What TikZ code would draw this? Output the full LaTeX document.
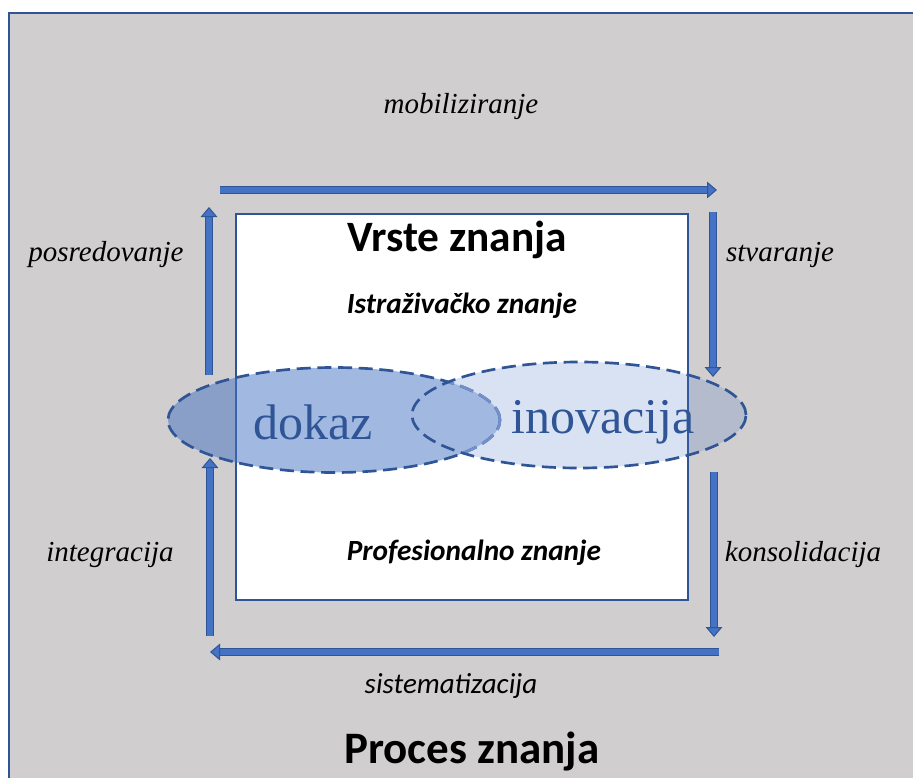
\documentclass[tikz,border=0pt]{standalone}
\usepackage{fontspec}
\setmainfont{Liberation Serif}
\newfontfamily\calibri{Carlito}
\usetikzlibrary{shapes,arrows.meta,positioning,calc}

\definecolor{framegray}{HTML}{D0CECE}
\definecolor{darkblue}{HTML}{2F5597}
\definecolor{midblue}{HTML}{4472C4}
\definecolor{fadeblue}{HTML}{7391C8}

\begin{document}
\begin{tikzpicture}[x=0.03cm, y=-0.03cm,
  flow/.style={draw=darkblue, line width=0.03cm, double=midblue, double distance=0.165cm,
    -{Triangle[width=0.5cm, length=0.3cm, fill=midblue]}},
  step label/.style={font=\fontsize{24.75pt}{28pt}\selectfont\itshape},
  oval line/.style={line width=0.08cm, dash pattern=on 0.42cm off 0.2cm},
  oval/.style={ellipse, draw=darkblue, oval line, inner sep=0pt}]
\useasboundingbox (0,0) rectangle (913,778);
\fill[white] (0,0) rectangle (913,778);

% outer frame
\fill[framegray] (9,13) rectangle (913,778);
\draw[darkblue, line width=0.06cm] (9,778) -- (9,13) -- (913,13);

% inner box
\node[draw=darkblue, line width=0.045cm, fill=white, minimum width=13.56cm, minimum height=11.58cm, inner sep=0pt] (vrste) at (462,407) {};
\node[font=\calibri\bfseries\fontsize{37pt}{41pt}\selectfont] (naslov) at (457,240) {Vrste znanja};
\node[font=\calibri\bfseries\itshape\fontsize{25pt}{29pt}\selectfont] (istraz) at (462,306) {Istraživačko znanje};
\node[font=\calibri\bfseries\itshape\fontsize{25pt}{29pt}\selectfont] (prof) at (474,553) {Profesionalno znanje};

% ellipses
\fill[midblue, opacity=0.5] (334,420) ellipse [x radius=166, y radius=52.5];
\begin{scope}
  \clip (579,415) ellipse [x radius=167, y radius=53];
  \fill[midblue, opacity=0.2, even odd rule] (579,415) ellipse [x radius=167, y radius=53]
    (334,420) ellipse [x radius=166, y radius=52.5];
\end{scope}
\node[oval, minimum width=9.96cm, minimum height=3.15cm] (dokazov) at (334,420) {};
\begin{scope}
  \clip (579,415) ellipse [x radius=167, y radius=53];
  \node[oval, draw=fadeblue, minimum width=9.96cm, minimum height=3.15cm] at (334,420) {};
\end{scope}
\node[oval, minimum width=10.02cm, minimum height=3.18cm] (inovov) at (579,415) {};
\node[text=darkblue, font=\fontsize{42.7pt}{46pt}\selectfont] (dokaz) at (313,422) {dokaz};
\node[text=darkblue, font=\fontsize{42.7pt}{46pt}\selectfont] (inovacija) at (603,422) {inovacija};

% cycle arrows
\coordinate (t1) at (220,190); \coordinate (t2) at (717,190);
\coordinate (r1) at (713,212); \coordinate (r2) at (713,377);
\coordinate (r3) at (714,472); \coordinate (r4) at (714,637);
\coordinate (b1) at (719,652); \coordinate (b2) at (210,652);
\coordinate (l1) at (210,636); \coordinate (l2) at (210,458);
\coordinate (l3) at (209,375); \coordinate (l4) at (209,207);
\draw[flow] (t1) -- (t2);
\draw[flow] (r1) -- (r2);
\draw[flow] (r3) -- (r4);
\draw[flow] (b1) -- (b2);
\draw[flow] (l1) -- (l2);
\draw[flow] (l3) -- (l4);

\node[step label] (mob) at (461,107) {mobiliziranje};
\node[step label] (stv) at (780,255) {stvaranje};
\node[step label] (kons) at (803,555) {konsolidacija};
\node[font=\calibri\itshape\fontsize{24.75pt}{28pt}\selectfont] (sist) at (451,686) {sistematizacija};
\node[step label] (integ) at (110,555) {integracija};
\node[step label] (posr) at (106,255) {posredovanje};

\node[font=\calibri\bfseries\fontsize{38.4pt}{42pt}\selectfont] (proces) at (472,752) {Proces znanja};
\end{tikzpicture}
\end{document}
